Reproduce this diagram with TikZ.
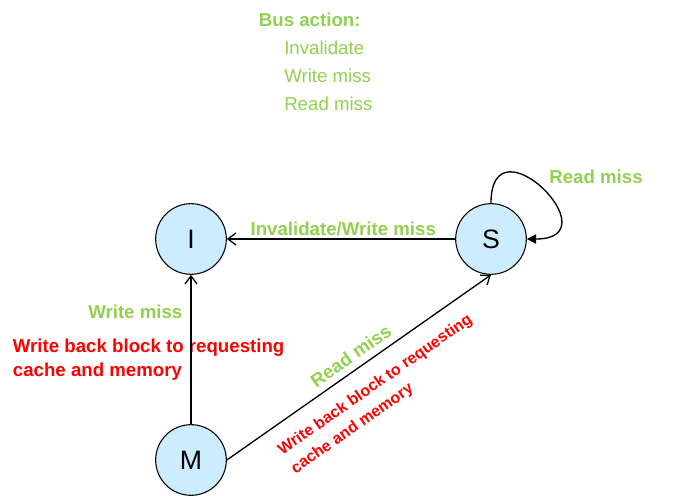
\documentclass[tikz,border=0pt]{standalone}
\usepackage{fontspec}
\setmainfont{Liberation Sans}
\usetikzlibrary{arrows.meta}
\definecolor{stateblue}{RGB}{204,236,255}
\definecolor{busgreen}{RGB}{146,208,80}
\definecolor{wbred}{RGB}{255,0,0}

\begin{document}
\begin{tikzpicture}
    [
        x=0.75pt, y=0.75pt,
        state/.style={circle, draw, line width=0.8pt, fill=stateblue, minimum size=53pt, inner sep=0pt, font=\fontsize{20}{24}\selectfont},
        trans/.style={line width=1pt, -{Straight Barb[length=6pt,width=9pt]}},
        busmsg/.style={text=busgreen, inner sep=2pt, font=\bfseries\fontsize{14}{18}\selectfont},
        wbmsg/.style={text=wbred, inner sep=2pt, align=left, font=\bfseries\fontsize{14}{18}\selectfont},
    ]
    \useasboundingbox (0,0) rectangle (676,496);

    % legend
    \node (bus)   at (256,476) [busmsg, anchor=west] {Bus action:};
    \node (kinds) at (284,420) [anchor=west, text=busgreen, inner sep=0pt, align=left, font=\fontsize{14}{21}\selectfont] {Invalidate\\Write miss\\Read miss};

    % states
    \node (I) at (191,257) [state] {I};
    \node (S) at (491,257) [state] {S};
    \node (M) at (191,36)  [state] {M};

    \node (wb) at (10,136) [wbmsg, anchor=west] {Write back block to requesting\\cache and memory};

    \path
    (S.west)  edge [trans] node [busmsg, above, pos=0.49] {Invalidate/Write miss} (I.east)
    (M.north) edge [trans] node [busmsg, left=4pt, pos=0.75] {Write miss} (I.south)
    (M.east)  edge [trans]
              node [busmsg, sloped, above=3pt] {Read miss}
              node [wbmsg, sloped, below=10pt, pos=0.51, font=\bfseries\fontsize{12}{17}\selectfont] {Write back block to requesting\\cache and memory} (S.south)
    (S.north) edge [line width=1pt, -{Triangle[length=7pt,width=7pt]}, out=90, in=0, looseness=4.4] (S.east);

    \node (rm) at (596,319) [busmsg] {Read miss};

\end{tikzpicture}
\end{document}
